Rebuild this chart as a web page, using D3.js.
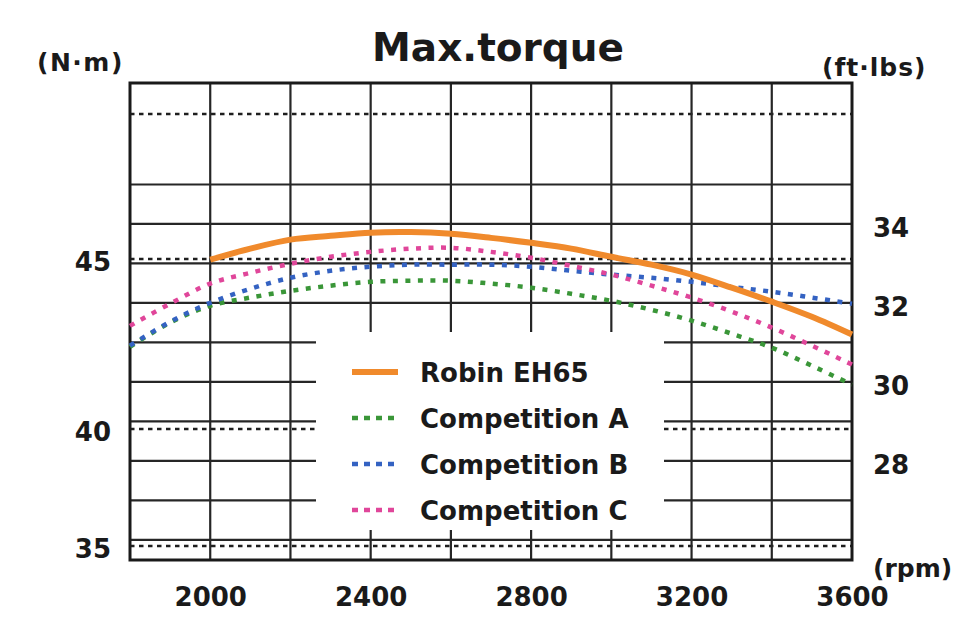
<!DOCTYPE html>
<html>
<head>
<meta charset="utf-8">
<script src="https://cdn.jsdelivr.net/npm/d3@7/dist/d3.min.js"></script>
<style>
  html, body { margin: 0; padding: 0; background: #ffffff; }
  svg { display: block; }
  text { font-family: "DejaVu Sans", sans-serif; font-weight: bold; fill: #1a1a1a; }
</style>
</head>
<body>
<svg id="chart" width="971" height="619"></svg>
<script>
// ---------------- data ----------------
const rpm = [1800, 1900, 2000, 2100, 2200, 2300, 2400, 2500, 2600, 2700, 2800, 2900, 3000, 3100, 3200, 3300, 3400, 3500, 3600];
// max torque in N·m
const robinEH65     = [null, null, 44.87, 45.25, 45.56, 45.69, 45.80, 45.82, 45.76, 45.62, 45.45, 45.25, 44.97, 44.70, 44.36, 43.91, 43.43, 42.91, 42.30];
const competitionA  = [41.88, 42.71, 43.29, 43.57, 43.80, 43.98, 44.11, 44.15, 44.15, 44.05, 43.91, 43.70, 43.46, 43.15, 42.78, 42.33, 41.85, 41.23, 40.58];
const competitionB  = [41.92, 42.74, 43.39, 43.87, 44.25, 44.49, 44.63, 44.70, 44.70, 44.70, 44.63, 44.49, 44.36, 44.25, 44.11, 43.94, 43.77, 43.57, 43.36];
const competitionC  = [42.60, 43.36, 44.05, 44.42, 44.73, 44.97, 45.14, 45.25, 45.28, 45.14, 44.94, 44.66, 44.36, 43.98, 43.57, 43.09, 42.54, 41.92, 41.27];

const seriesNames  = ["Robin EH65", "Competition A", "Competition B", "Competition C"];
const seriesValues = [robinEH65, competitionA, competitionB, competitionC];
const seriesColors = ["#f08a2c", "#3a9638", "#3462c2", "#e0469a"];

const rpmTicks = [2000, 2400, 2800, 3200, 3600];
const rpmGrid  = [2000, 2200, 2400, 2600, 2800, 3000, 3200, 3400];
const nmTicks  = [35, 40, 45];
const nmGrid   = [35, 40, 45, 50];
const ftTicks  = [28, 30, 32, 34];
const ftGrid   = [26, 27, 28, 29, 30, 31, 32, 33, 34, 35];
const NM_TO_FT = 0.737562;

// ---------------- layout ----------------
const L = 130, R = 852, T = 83, B = 560;
const gap = { x0: 316, x1: 664, y0: 332, y1: 530 };   // blank legend window

const svg = d3.select("#chart");

const x = d3.scaleLinear().domain([1800, 3600]).range([L, R]);
const yFt = d3.scaleLinear().domain([25.49, 37.57]).range([B, T]);
// left N·m axis as printed on the original (non-uniform spacing)
const yNm = d3.scaleLinear().domain([35, 40, 45, 50]).range([546, 429, 259, 114]);

const gGrid = svg.append("g");

function hSegments(y) {
  if (y > gap.y0 && y < gap.y1) return [[L, gap.x0], [gap.x1, R]];
  return [[L, R]];
}
function vSegments(xx) {
  if (xx > gap.x0 && xx < gap.x1) return [[T, gap.y0], [gap.y1, B]];
  return [[T, B]];
}

// solid ft·lbs grid lines
ftGrid.forEach(v => {
  const y = yFt(v);
  hSegments(y).forEach(s => {
    gGrid.append("line").attr("x1", s[0]).attr("x2", s[1]).attr("y1", y).attr("y2", y)
      .attr("stroke", "#262626").attr("stroke-width", 2.2);
  });
});
// dotted N·m grid lines
nmGrid.forEach(v => {
  const y = yNm(v);
  hSegments(y).forEach(s => {
    gGrid.append("line").attr("x1", s[0]).attr("x2", s[1]).attr("y1", y).attr("y2", y)
      .attr("stroke", "#1e1e1e").attr("stroke-width", 2.6).attr("stroke-dasharray", "4.5,4.5");
  });
});
// vertical rpm grid lines
rpmGrid.forEach(v => {
  const xx = x(v);
  vSegments(xx).forEach(s => {
    gGrid.append("line").attr("x1", xx).attr("x2", xx).attr("y1", s[0]).attr("y2", s[1])
      .attr("stroke", "#262626").attr("stroke-width", 2.2);
  });
});
// frame
svg.append("rect").attr("x", L).attr("y", T).attr("width", R - L).attr("height", B - T)
  .attr("fill", "none").attr("stroke", "#1a1a1a").attr("stroke-width", 3);

// ---------------- curves ----------------
const line = d3.line()
  .defined(d => d[1] !== null)
  .x(d => x(d[0]))
  .y(d => yFt(d[1] * NM_TO_FT))
  .curve(d3.curveCatmullRom.alpha(0.5));

const dashes = [null, "5,7.5", "5,7.5", "5,7.5"];
const widths = [6, 4.5, 4.5, 4.5];
[1, 2, 3, 0].forEach(i => {
  const pts = rpm.map((r, j) => [r, seriesValues[i][j]]);
  const p = svg.append("path").datum(pts)
    .attr("d", line)
    .attr("fill", "none")
    .attr("stroke", seriesColors[i])
    .attr("stroke-width", widths[i]);
  if (dashes[i]) p.attr("stroke-dasharray", dashes[i]);
});

// ---------------- legend ----------------
const leg = svg.append("g").attr("transform", "translate(352,372)");
seriesNames.forEach((name, i) => {
  const g = leg.append("g").attr("transform", `translate(0,${i * 46})`);
  const ln = g.append("line").attr("x1", 0).attr("x2", 46).attr("y1", 0).attr("y2", 0)
    .attr("stroke", seriesColors[i]).attr("stroke-width", widths[i]);
  if (dashes[i]) ln.attr("stroke-dasharray", "6,6");
  g.append("text").attr("x", 68).attr("y", 1).attr("dy", "0.36em")
    .style("font-size", "26px").text(name);
});

// ---------------- axes ----------------
const ax = svg.append("g").attr("transform", `translate(0,${B})`)
  .call(d3.axisBottom(x).tickValues(rpmTicks).tickSize(0).tickPadding(28).tickFormat(d3.format("d")));
const al = svg.append("g").attr("transform", `translate(${L},3)`)
  .call(d3.axisLeft(yNm).tickValues(nmTicks).tickSize(0).tickPadding(19).tickFormat(d3.format("d")));
const ar = svg.append("g").attr("transform", `translate(${R},4)`)
  .call(d3.axisRight(yFt).tickValues(ftTicks).tickSize(0).tickPadding(21).tickFormat(d3.format("d")));
[ax, al, ar].forEach(a => {
  a.select(".domain").remove();
  a.selectAll("text").attr("fill", "#1a1a1a")
    .style("font-family", "'DejaVu Sans', sans-serif")
    .style("font-weight", "bold").style("font-size", "26px");
});

// ---------------- titles ----------------
svg.append("text").attr("x", 498).attr("y", 61).attr("text-anchor", "middle")
  .style("font-size", "39px").text("Max.torque");
svg.append("text").attr("x", 37).attr("y", 71).style("font-size", "25px")
  .style("letter-spacing", "1.5px").text("(N·m)");
svg.append("text").attr("x", 822).attr("y", 76).style("font-size", "25px")
  .style("letter-spacing", "1px").text("(ft·lbs)");
svg.append("text").attr("x", 873).attr("y", 577).style("font-size", "25px")
  .text("(rpm)");
</script>
</body>
</html>
